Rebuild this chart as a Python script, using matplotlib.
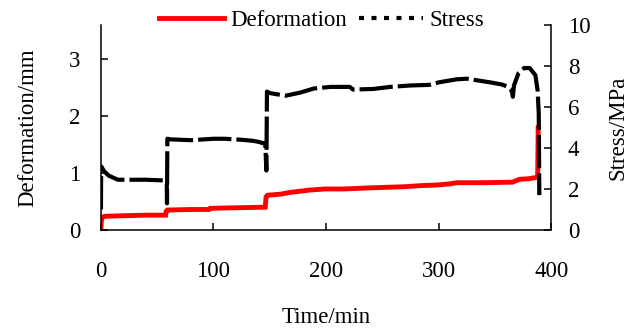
import matplotlib
matplotlib.use("Agg")
import matplotlib.pyplot as plt
from matplotlib.lines import Line2D

plt.rcParams['font.family'] = ['Liberation Serif', 'DejaVu Serif']
plt.rcParams['font.size'] = 16.5

# deformation (mm)
def_time = [0, 0.3, 1, 3, 20, 40, 57.5, 58, 59, 80, 96, 97, 120, 146, 146.7, 148,
            160, 168, 185, 199, 215, 240, 270, 285, 299, 310, 316, 340, 366,
            368, 372, 380, 386, 388, 388.5]
deformation = [0, 0.15, 0.22, 0.24, 0.25, 0.26, 0.26, 0.33, 0.35, 0.36, 0.36, 0.38,
               0.39, 0.40, 0.58, 0.61, 0.63, 0.66, 0.70, 0.72, 0.72, 0.74, 0.76,
               0.78, 0.79, 0.81, 0.83, 0.83, 0.84, 0.86, 0.89, 0.90, 0.92, 0.93, 1.80]

# stress (MPa)
str_time = [0, 0.2, 3, 7, 11, 15, 25, 40, 55, 57.5, 58.5, 58.7, 59, 62, 80, 100,
            110, 125, 135, 140, 146, 147, 147.5, 150, 164, 177, 189, 204, 221,
            224, 242, 257, 275, 292, 300, 316, 325, 346, 356, 361, 365, 366,
            367, 371, 376, 381, 386, 388, 389, 389.5]
stress = [1.0, 3.1, 2.85, 2.65, 2.55, 2.45, 2.45, 2.45, 2.42, 2.3, 2.2, 1.3, 4.45,
          4.42, 4.38, 4.45, 4.45, 4.4, 4.35, 4.3, 4.2, 2.9, 6.75, 6.68, 6.55, 6.7,
          6.9, 6.98, 6.98, 6.85, 6.88, 6.98, 7.05, 7.08, 7.2, 7.35, 7.38, 7.2,
          7.1, 7.0, 6.8, 6.5, 7.05, 7.65, 7.9, 7.9, 7.55, 6.8, 5.7, 1.7]

x_ticks = [0, 100, 200, 300, 400]
left_ticks = [0, 1, 2, 3]
right_ticks = [0, 2, 4, 6, 8, 10]

fig = plt.figure(figsize=(6.27, 3.29), dpi=100)
ax = fig.add_axes([0.161, 0.301, 0.718, 0.623])
ax2 = ax.twinx()

ax.plot(def_time, deformation, color='#ff0000', lw=3.5, solid_joinstyle='miter')
ax2.plot(str_time, stress, color='black', lw=3, linestyle=(0, (8, 1.2)))

ax.set_xlim(0, 400)
ax.set_ylim(0, 3.6)
ax2.set_ylim(0, 10)
ax.set_xticks(x_ticks)
ax.set_yticks(left_ticks)
ax2.set_yticks(right_ticks)

for a in (ax, ax2):
    a.spines['top'].set_visible(False)
    for s in a.spines.values():
        s.set_linewidth(1.1)
ax.spines['right'].set_visible(False)
ax2.spines['left'].set_visible(False)
ax2.spines['bottom'].set_visible(False)

ax.tick_params(axis='x', direction='in', length=5, width=1.1, pad=22)
ax.tick_params(axis='y', direction='in', length=5, width=1.1, pad=15)
ax2.tick_params(axis='y', direction='in', length=5, width=1.1, pad=12)

ax.set_xlabel('Time/min', labelpad=18)
ax.set_ylabel('Deformation/mm', labelpad=22)
ax2.set_ylabel('Stress/MPa', labelpad=12)

handles = [Line2D([], [], color='#ff0000', lw=3.5),
           Line2D([], [], color='black', lw=3, linestyle=(0, (1.2, 1.8)))]
fig.legend(handles, ['Deformation', 'Stress'], loc='center', ncol=2,
           bbox_to_anchor=(322 / 627, 0.939), frameon=False,
           handlelength=2.8, handletextpad=0.3, columnspacing=0.5,
           borderpad=0, borderaxespad=0)

fig.savefig('out.png', dpi=100)
